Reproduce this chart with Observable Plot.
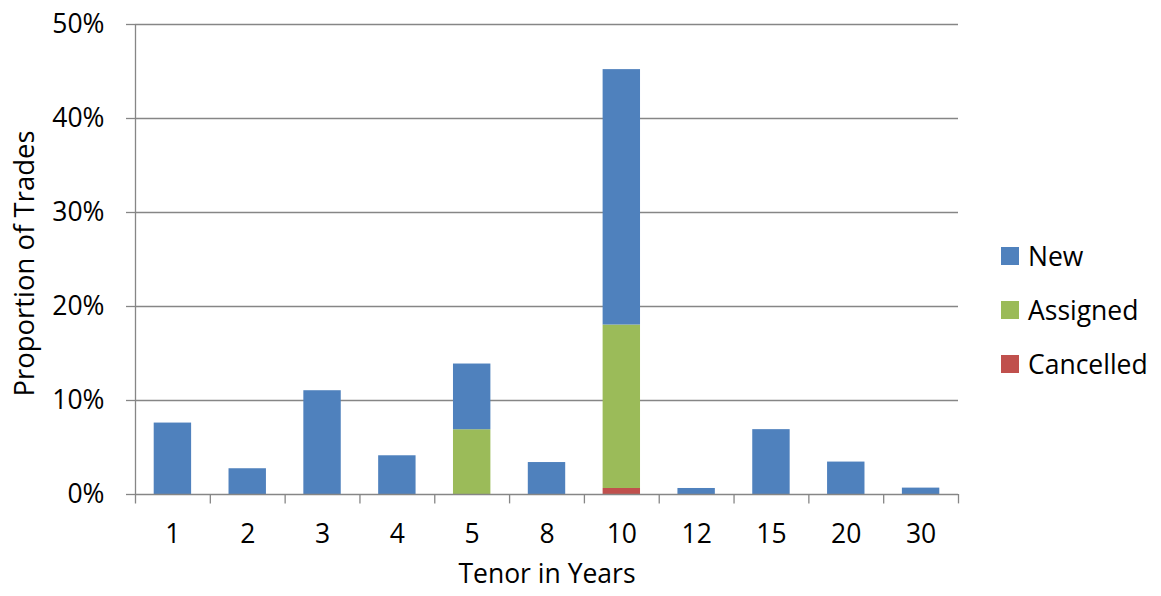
<!DOCTYPE html>
<html>
<head>
<meta charset="utf-8">
<script src="https://cdn.jsdelivr.net/npm/d3@7"></script>
<script src="https://cdn.jsdelivr.net/npm/@observablehq/plot@0.6"></script>
<style>
  html, body { margin: 0; padding: 0; background: #fff; }
  #wrap { position: relative; width: 1161px; height: 596px; font-family: "Open Sans", Lato, sans-serif; }
  .leg { position: absolute; left: 1001px; display: flex; align-items: center; font-size: 26.5px; color: #000; }
  .leg span.sw { display: inline-block; width: 18px; height: 18px; margin-right: 9px; }
</style>
</head>
<body>
<div id="wrap"></div>
<script>
const tenors = ["1","2","3","4","5","8","10","12","15","20","30"];
const newTrades = [7.6, 2.74, 11.04, 4.12, 6.99, 3.4, 27.17, 0.64, 6.9, 3.45, 0.68];
const assigned  = [0, 0, 0, 0, 6.89, 0, 17.39, 0, 0, 0, 0];
const cancelled = [0, 0, 0, 0, 0, 0, 0.64, 0, 0, 0, 0];
const seriesNames = ["New", "Assigned", "Cancelled"];
const seriesColors = ["#4F81BD", "#9BBB59", "#C0504D"];
const yTicks = [0, 10, 20, 30, 40, 50];

const rows = [];
tenors.forEach((t, i) => {
  if (cancelled[i] > 0) rows.push({tenor: t, series: "Cancelled", value: cancelled[i]});
  if (assigned[i] > 0) rows.push({tenor: t, series: "Assigned", value: assigned[i]});
  if (newTrades[i] > 0) rows.push({tenor: t, series: "New", value: newTrades[i]});
});

const W = 1161, H = 596, ML = 135, MR = 203, MT = 24, MB = 102;
const step = (W - ML - MR) / tenors.length;
const grey = "#868686";
const FS = 26.5;

const chart = Plot.plot({
  width: W, height: H,
  marginLeft: ML, marginRight: MR, marginTop: MT, marginBottom: MB,
  style: {fontFamily: '"Open Sans", Lato, sans-serif', fontSize: FS + "px", color: "#000", background: "#fff"},
  x: {domain: tenors, paddingInner: 0.5, paddingOuter: 0.25, round: false, label: null},
  y: {domain: [0, 50], label: null},
  color: {domain: seriesNames, range: seriesColors},
  marks: [
    Plot.gridY(yTicks.slice(1), {stroke: grey, strokeOpacity: 1, strokeWidth: 1.3}),
    Plot.axisY(yTicks, {tickSize: 9, tickPadding: 22, tickFormat: d => d + "%", stroke: grey, strokeWidth: 1.3, fill: "#000", fontSize: FS, label: null}),
    Plot.axisX({tickSize: 0, tickPadding: 30, fontSize: FS, fill: "#000", label: null}),
    Plot.barY(rows, {x: "tenor", y: "value", fill: "series", order: ["Cancelled", "Assigned", "New"]}),
    Plot.ruleY([0], {stroke: grey, strokeWidth: 1.3}),
    Plot.ruleX(tenors, {x: d => d, dx: -step / 2, y1: (d, i) => -1, y2: (d, i) => i === 0 ? 50 : 0, stroke: grey, strokeWidth: 1.3}),
    Plot.ruleX(tenors.slice(-1), {x: d => d, dx: step / 2, y1: -1, y2: 0, stroke: grey, strokeWidth: 1.3}),
    Plot.text(["Tenor in Years"], {frameAnchor: "bottom", dy: 88, fontSize: FS, fill: "#000"}),
    Plot.text(["Proportion of Trades"], {frameAnchor: "left", textAnchor: "middle", dx: -110, dy: 4, rotate: -90, fontSize: 27.5, fill: "#000"})
  ]
});

const wrap = document.getElementById("wrap");
wrap.appendChild(chart);
const legTops = [257, 311, 365];
seriesNames.forEach((s, i) => {
  const d = document.createElement("div");
  d.className = "leg";
  d.style.top = (legTops[i] - 16) + "px";
  d.style.height = "30px";
  const sw = document.createElement("span");
  sw.className = "sw";
  sw.style.background = seriesColors[i];
  d.appendChild(sw);
  d.appendChild(document.createTextNode(s));
  wrap.appendChild(d);
});
</script>
</body>
</html>
